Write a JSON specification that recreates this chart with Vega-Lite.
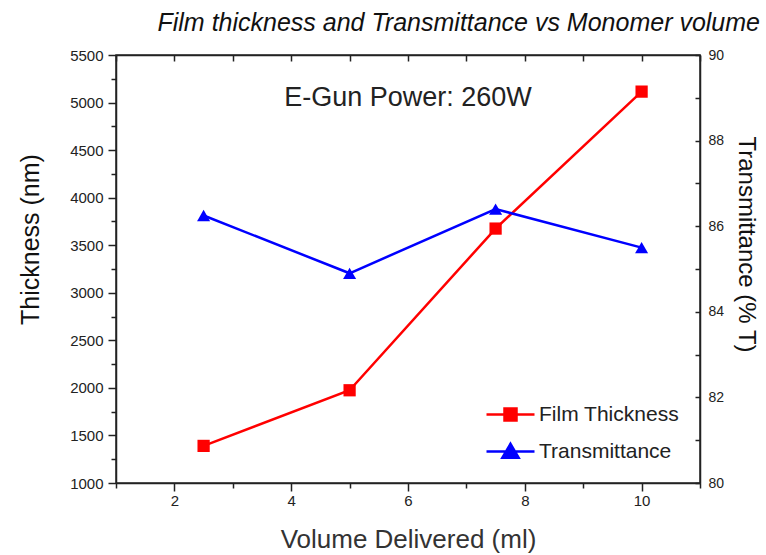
{
  "$schema": "https://vega.github.io/schema/vega-lite/v6.json",
  "width": 584,
  "height": 428,
  "autosize": "none",
  "padding": {"left": 116, "top": 55, "right": 66, "bottom": 72},
  "background": "white",
  "config": {
    "font": "Liberation Sans",
    "view": {"stroke": "#222", "strokeWidth": 1.5},
    "axis": {
      "domainColor": "#222",
      "domainWidth": 1.5,
      "tickColor": "#222",
      "tickWidth": 1.5,
      "labelColor": "#222",
      "titleColor": "#111",
      "labelFontSize": 15,
      "titleFontSize": 25,
      "titleFontWeight": "normal",
      "grid": false
    }
  },
  "title": {
    "text": "Film thickness and Transmittance vs Monomer volume",
    "fontSize": 25,
    "fontStyle": "italic",
    "fontWeight": "normal",
    "anchor": "end",
    "frame": "group",
    "dx": 60,
    "offset": 12,
    "color": "#111"
  },
  "layer": [
    {
      "data": {
        "values": [
          {"volume": 2.5, "thickness": 1390, "series": "Film Thickness"},
          {"volume": 5, "thickness": 1975, "series": "Film Thickness"},
          {"volume": 7.5, "thickness": 3675, "series": "Film Thickness"},
          {"volume": 10, "thickness": 5115, "series": "Film Thickness"}
        ]
      },
      "encoding": {
        "x": {
          "field": "volume",
          "type": "quantitative",
          "scale": {"domain": [1, 11], "nice": false},
          "axis": {
            "orient": "bottom",
            "title": "Volume Delivered (ml)",
            "values": [1, 2, 3, 4, 5, 6, 7, 8, 9, 10, 11],
            "labelExpr": "datum.value % 2 === 0 ? datum.label : ''",
            "labelFontSize": 15,
            "tickSize": {"condition": {"test": "datum.value % 2 === 0", "value": 8}, "value": 5},
            "labelPadding": 2,
            "titlePadding": 18,
            "titleFontSize": 26,
            "titleColor": "#333"
          }
        },
        "y": {
          "field": "thickness",
          "type": "quantitative",
          "scale": {"domain": [1000, 5500], "nice": false},
          "axis": {
            "orient": "left",
            "title": "Thickness (nm)",
            "values": [1000, 1250, 1500, 1750, 2000, 2250, 2500, 2750, 3000, 3250, 3500, 3750, 4000, 4250, 4500, 4750, 5000, 5250, 5500],
            "format": "d",
            "labelExpr": "datum.value % 500 === 0 ? datum.label : ''",
            "labelFontSize": 15,
            "tickSize": {"condition": {"test": "datum.value % 500 === 0", "value": 8}, "value": 5},
            "labelPadding": 5,
            "titlePadding": 26,
            "titleY": 184
          }
        }
      },
      "layer": [
        {
          "mark": {"type": "line", "strokeWidth": 2.5},
          "encoding": {
            "color": {
              "field": "series",
              "type": "nominal",
              "scale": {"domain": ["Film Thickness", "Transmittance"], "range": ["#ff0000", "#0000ff"]},
              "legend": {
                "title": null,
                "orient": "bottom-right",
                "offset": 20,
                "symbolSize": 2304,
                "symbolStrokeWidth": 2.5,
                "symbolType": "M-1,0H1M-0.25,-0.25H0.25V0.25H-0.25Z",
                "labelFontSize": 21,
                "labelColor": "#222",
                "labelOffset": 3,
                "rowPadding": -6,
                "encode": {
                  "symbols": {
                    "update": {
                      "shape": {"signal": "datum.value === 'Transmittance' ? 'M-1,0H1M0,-0.32L0.34,0.26H-0.34Z' : 'M-1,0H1M-0.25,-0.25H0.25V0.25H-0.25Z'"},
                      "fill": {"signal": "datum.value === 'Transmittance' ? '#0000ff' : '#ff0000'"},
                      "fillOpacity": {"value": 1}
                    }
                  }
                }
              }
            }
          }
        },
        {
          "mark": {"type": "point", "shape": "square", "filled": true, "color": "#ff0000", "size": 150, "opacity": 1}
        },
        {
          "data": {"values": [{"volume": 6, "thickness": 5050, "label": "E-Gun Power: 260W"}]},
          "mark": {"type": "text", "fontSize": 27, "color": "#222"},
          "encoding": {"text": {"field": "label"}}
        }
      ]
    },
    {
      "data": {
        "values": [
          {"volume": 2.5, "transmittance": 86.25, "series": "Transmittance"},
          {"volume": 5, "transmittance": 84.9, "series": "Transmittance"},
          {"volume": 7.5, "transmittance": 86.4, "series": "Transmittance"},
          {"volume": 10, "transmittance": 85.5, "series": "Transmittance"}
        ]
      },
      "encoding": {
        "x": {
          "field": "volume",
          "type": "quantitative",
          "scale": {"domain": [1, 11], "nice": false},
          "axis": {
            "orient": "top",
            "title": null,
            "labels": false,
            "values": [1, 2, 3, 4, 5, 6, 7, 8, 9, 10, 11],
            "tickSize": -6
          }
        },
        "y": {
          "field": "transmittance",
          "type": "quantitative",
          "scale": {"domain": [80, 90], "nice": false},
          "axis": {
            "orient": "right",
            "title": "Transmittance (% T)",
            "values": [80, 81, 82, 83, 84, 85, 86, 87, 88, 89, 90],
            "labelExpr": "datum.value % 2 === 0 ? datum.label : ''",
            "labelFontSize": 14,
            "tickSize": -5,
            "labelPadding": 13,
            "titlePadding": 10,
            "titleFontSize": 24,
            "titleY": 189
          }
        }
      },
      "layer": [
        {
          "mark": {"type": "line", "strokeWidth": 2.5},
          "encoding": {
            "color": {"field": "series", "type": "nominal"}
          }
        },
        {
          "mark": {"type": "point", "shape": "triangle-up", "filled": true, "color": "#0000ff", "size": 170, "opacity": 1}
        }
      ]
    }
  ],
  "resolve": {
    "scale": {"y": "independent", "x": "independent"},
    "axis": {"x": "independent", "y": "independent"}
  }
}
